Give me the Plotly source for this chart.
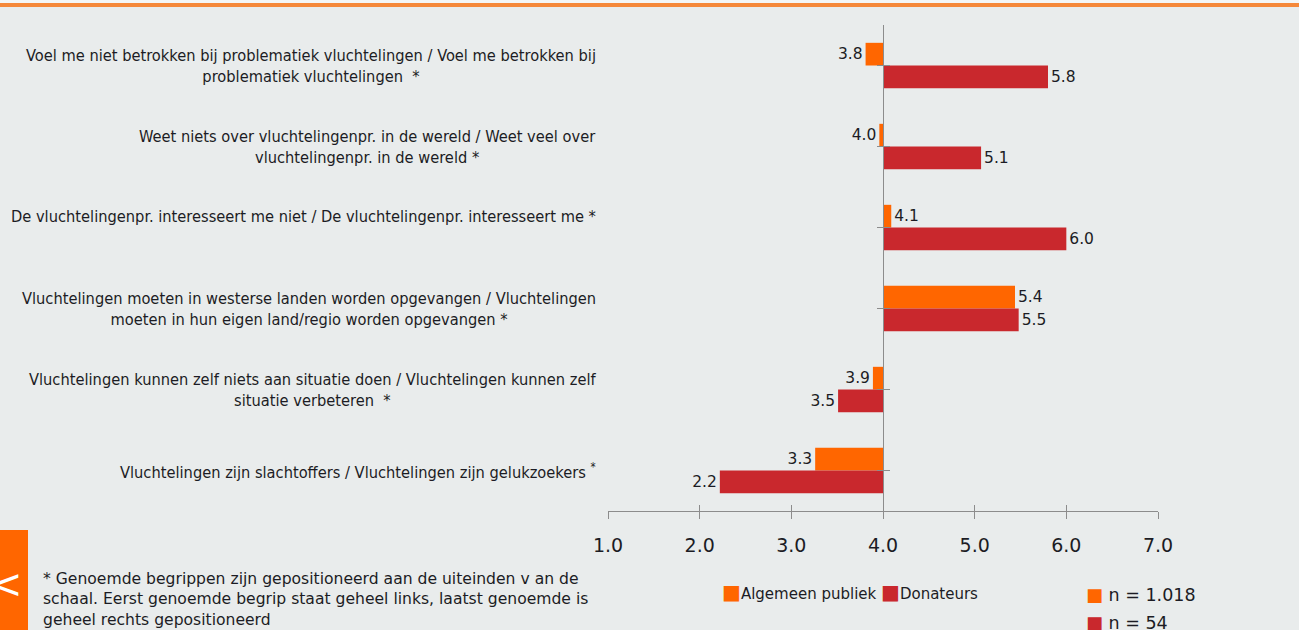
import plotly.graph_objects as go

# ---------------- data ----------------
CATEGORIES = [
    "Voel me niet betrokken bij problematiek vluchtelingen / Voel me betrokken bij<br>problematiek vluchtelingen  *",
    "Weet niets over vluchtelingenpr. in de wereld / Weet veel over<br>vluchtelingenpr. in de wereld *",
    "De vluchtelingenpr. interesseert me niet / De vluchtelingenpr. interesseert me *",
    "Vluchtelingen moeten in westerse landen worden opgevangen / Vluchtelingen<br>moeten in hun eigen land/regio worden opgevangen *",
    "Vluchtelingen kunnen zelf niets aan situatie doen / Vluchtelingen kunnen zelf<br>situatie verbeteren  *",
    "Vluchtelingen zijn slachtoffers / Vluchtelingen zijn gelukzoekers <sup>*</sup>",
]
SERIES = ["Algemeen publiek", "Donateurs"]
ALGEMEEN_PUBLIEK = [3.81, 3.96, 4.09, 5.44, 3.89, 3.26]
DONATEURS = [5.80, 5.07, 6.00, 5.48, 3.51, 2.22]
SAMPLE_SIZES = ["1.018", "54"]
BASE = 4.0
X_TICKS = [1.0, 2.0, 3.0, 4.0, 5.0, 6.0, 7.0]
X_TICK_LABELS = ["1.0", "2.0", "3.0", "4.0", "5.0", "6.0", "7.0"]
FOOTNOTE = ("* Genoemde begrippen zijn gepositioneerd aan de uiteinden v an de<br>"
            "schaal. Eerst genoemde begrip staat geheel links, laatst genoemde is<br>"
            "geheel rechts gepositioneerd")

# ---------------- style ----------------
W, H = 1299, 630
L, R, T, B = 608, 1158, 25, 511
BG = "#e9ecec"
ORANGE = "#ff6600"
RED = "#c9282d"
COLORS = [ORANGE, RED]
AXIS_COLOR = "#8c8c8c"
TEXT = "#1c1c24"
FONT = "DejaVu Sans"
LABEL_FONT = "DejaVu Sans Condensed"
LABEL_YSHIFT = [0, 0, 11, 0, 0, 0]


def px_x(p):
    return (p - L) / (R - L)


def px_y(p):
    return (B - p) / (B - T)


xmin, xmax = X_TICKS[0], X_TICKS[-1]
n = len(CATEGORIES)
idx = list(range(n))
base_pos = (BASE - xmin) / (xmax - xmin)

fig = go.Figure()
for name, vals, col in zip(SERIES, [ALGEMEEN_PUBLIEK, DONATEURS], COLORS):
    fig.add_trace(go.Bar(
        name=name,
        y=idx,
        x=[v - BASE for v in vals],
        base=BASE,
        orientation="h",
        marker=dict(color=col, line=dict(width=0)),
        text=[f"{v:.1f}" for v in vals],
        textposition="outside",
        textfont=dict(family=FONT, size=15.5, color=TEXT),
        constraintext="none",
        cliponaxis=False,
        hoverinfo="skip",
        showlegend=False,
    ))

# invisible helper trace for the overlay axes (ticks crossing the axis lines)
fig.add_trace(go.Scatter(
    x=[BASE] * n, y=idx, xaxis="x2", yaxis="y2", mode="markers",
    marker=dict(opacity=0), hoverinfo="skip", showlegend=False,
))

axis_common = dict(showgrid=False, zeroline=False)
fig.update_layout(
    width=W, height=H,
    margin=dict(l=L, r=W - R, t=T, b=H - B),
    paper_bgcolor=BG, plot_bgcolor=BG,
    barmode="group", bargap=0.44, bargroupgap=0,
    showlegend=False,
    xaxis=dict(
        range=[xmin, xmax], domain=[0, 1],
        tickvals=X_TICKS, ticktext=X_TICK_LABELS,
        ticks="outside", ticklen=7, tickcolor=AXIS_COLOR, tickwidth=1,
        showline=True, linecolor=AXIS_COLOR, linewidth=1,
        tickfont=dict(family=FONT, size=19, color=TEXT),
        ticklabelstandoff=10,
        **axis_common,
    ),
    xaxis2=dict(
        range=[xmin, xmax], overlaying="x", anchor="y", side="bottom",
        tickvals=X_TICKS, ticks="inside", ticklen=6, tickcolor=AXIS_COLOR,
        showticklabels=False, showline=False, **axis_common,
    ),
    yaxis=dict(
        range=[n - 0.5, -0.5], anchor="free", position=base_pos,
        tickvals=idx, tickson="boundaries", ticks="outside", ticklen=6,
        tickcolor=AXIS_COLOR, showticklabels=False,
        showline=True, linecolor=AXIS_COLOR, linewidth=1, **axis_common,
    ),
    yaxis2=dict(
        range=[n - 0.5, -0.5], overlaying="y", anchor="free", position=base_pos,
        tickvals=idx, tickson="boundaries", ticks="inside", ticklen=6,
        tickcolor=AXIS_COLOR, showticklabels=False, showline=False, **axis_common,
    ),
)

annotations = []
for i, (lab, ys) in enumerate(zip(CATEGORIES, LABEL_YSHIFT)):
    annotations.append(dict(
        xref="paper", yref="y", x=px_x(598), y=i, xanchor="right", yanchor="middle",
        text=lab, align="center", showarrow=False, yshift=ys,
        font=dict(family=LABEL_FONT, size=16.3, color=TEXT),
    ))

# legend (series)
legend_text = " ".join(
    f'<span style="color:{c};font-size:20px">■</span>{s}' for s, c in zip(SERIES, COLORS)
)
annotations.append(dict(
    xref="paper", yref="paper", x=px_x(720), y=px_y(592), xanchor="left", yanchor="middle",
    text=legend_text, showarrow=False, font=dict(family=FONT, size=15, color=TEXT),
))
# sample sizes
for k, (ns, c) in enumerate(zip(SAMPLE_SIZES, COLORS)):
    annotations.append(dict(
        xref="paper", yref="paper", x=px_x(1084), y=px_y(594 + 28 * k), xanchor="left",
        yanchor="middle",
        text=f'<span style="color:{c};font-size:18px">■</span> n = {ns}', showarrow=False,
        font=dict(family=FONT, size=17.5, color=TEXT),
    ))
# footnote
annotations.append(dict(
    xref="paper", yref="paper", x=px_x(41), y=px_y(568), xanchor="left", yanchor="top",
    text=FOOTNOTE, align="left", showarrow=False,
    font=dict(family=FONT, size=15.6, color=TEXT),
))
# side tab chevron
annotations.append(dict(
    xref="paper", yref="paper", x=px_x(6), y=px_y(584), xanchor="center", yanchor="middle",
    text="<", showarrow=False, font=dict(family=FONT, size=40, color="white"),
))

shapes = [
    dict(type="rect", xref="paper", yref="paper", x0=px_x(0), x1=px_x(W), y0=px_y(0), y1=px_y(3),
         fillcolor="#f4f6f6", line=dict(width=0), layer="below"),
    dict(type="line", xref="paper", yref="paper", x0=px_x(0), x1=px_x(W), y0=px_y(5), y1=px_y(5),
         line=dict(color="#f5883a", width=4)),
    dict(type="rect", xref="paper", yref="paper", x0=px_x(0), x1=px_x(28), y0=px_y(530), y1=px_y(H + 5),
         fillcolor=ORANGE, line=dict(width=0), layer="below"),
]
fig.update_layout(annotations=annotations, shapes=shapes)

fig.write_html(
    "out.html",
    config={"displayModeBar": False},
    post_script="document.body.style.margin='0';document.body.style.overflow='hidden';",
)
